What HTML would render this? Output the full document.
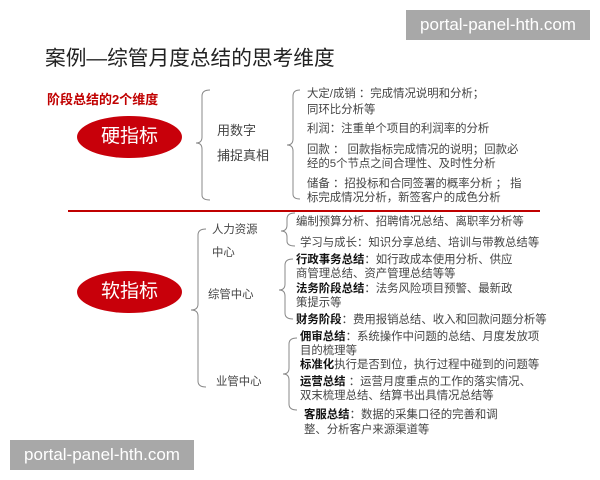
<!DOCTYPE html>
<html><head><meta charset="utf-8"><style>
body{margin:0;width:600px;height:480px;background:#fff;position:relative;overflow:hidden;font-family:"Liberation Sans","Noto Sans CJK SC",sans-serif;color:#444}
.t{position:absolute;white-space:nowrap;font-size:11.4px;line-height:14px}
.b{font-weight:bold;color:#111}
.wm{position:absolute;background:#a8a8a8;color:#fff;font-size:17px;line-height:30px;text-align:center;width:184px;height:30px}
.el{position:absolute;background:#c8000a;border-radius:50%;color:#fff;font-size:19px;text-align:center}
</style></head><body>
<div class="wm" style="left:406px;top:10px">portal-panel-hth.com</div>
<div class="wm" style="left:10px;top:440px">portal-panel-hth.com</div>
<div class="t" style="left:45px;top:46px;font-size:20.7px;line-height:26px;color:#222">案例—综管月度总结的思考维度</div>
<div class="t b" style="left:47px;top:93px;font-size:13px;color:#c00000">阶段总结的2个维度</div>
<div class="el" style="left:77px;top:116px;width:105px;height:42px;line-height:42px">硬指标</div>
<div class="el" style="left:77px;top:271px;width:105px;height:42px;line-height:42px">软指标</div>
<svg width="600" height="480" style="position:absolute;left:0;top:0" fill="none" stroke="#888" stroke-width="1">
<path d="M210,90 Q202,90 202,96 L202,137 Q202,143 196,143 Q202,143 202,149 L202,195 Q202,200 210,200"/>
<path d="M300,90 Q293,90 293,96 L293,139 Q293,145 287,145 Q293,145 293,151 L293,194 Q293,199 300,199"/>
<line x1="68" y1="211" x2="540" y2="211" stroke="#c00000" stroke-width="2"/>
<path d="M206,229 Q198,229 198,235 L198,304 Q198,310 191,310 Q198,310 198,316 L198,381 Q198,387 206,387"/>
<path d="M295,213 Q287,213 287,219 L287,225 Q287,231 281,231 Q287,231 287,237 L287,241 Q287,246 295,246"/>
<path d="M293,259 Q285,259 285,265 L285,284 Q285,290 279,290 Q285,290 285,296 L285,313 Q285,319 293,319"/>
<path d="M297,338 Q289,338 289,344 L289,368 Q289,374 283,374 Q289,374 289,380 L289,404 Q289,410 297,410"/>
</svg>
<div class="t" style="left:217px;top:123px;font-size:13px;line-height:16px">用数字</div>
<div class="t" style="left:217px;top:148px;font-size:13px;line-height:16px">捕捉真相</div>
<div class="t" style="left:307px;top:87px">大定/成销 ：完成情况说明和分析；</div>
<div class="t" style="left:307px;top:103px">同环比分析等</div>
<div class="t" style="left:307px;top:122px">利润：注重单个项目的利润率的分析</div>
<div class="t" style="left:307px;top:143px">回款 ： 回款指标完成情况的说明；回款必</div>
<div class="t" style="left:307px;top:157px">经的5个节点之间合理性、及时性分析</div>
<div class="t" style="left:307px;top:177px">储备 ：招投标和合同签署的概率分析 ； 指</div>
<div class="t" style="left:307px;top:191px">标完成情况分析，新签客户的成色分析</div>
<div class="t" style="left:212px;top:223px">人力资源</div>
<div class="t" style="left:212px;top:246px">中心</div>
<div class="t" style="left:208px;top:288px">综管中心</div>
<div class="t" style="left:216px;top:375px">业管中心</div>
<div class="t" style="left:296px;top:215px">编制预算分析、招聘情况总结、离职率分析等</div>
<div class="t" style="left:300px;top:236px">学习与成长：知识分享总结、培训与带教总结等</div>
<div class="t" style="left:296px;top:253px"><span class="b">行政事务总结</span>：如行政成本使用分析、供应</div>
<div class="t" style="left:296px;top:267px">商管理总结、资产管理总结等等</div>
<div class="t" style="left:296px;top:282px"><span class="b">法务阶段总结</span>：法务风险项目预警、最新政</div>
<div class="t" style="left:296px;top:296px">策提示等</div>
<div class="t" style="left:296px;top:313px"><span class="b">财务阶段</span>：费用报销总结、收入和回款问题分析等</div>
<div class="t" style="left:300px;top:330px"><span class="b">佣审总结</span>：系统操作中问题的总结、月度发放项</div>
<div class="t" style="left:300px;top:344px">目的梳理等</div>
<div class="t" style="left:300px;top:358px"><span class="b">标准化</span>执行是否到位，执行过程中碰到的问题等</div>
<div class="t" style="left:300px;top:375px"><span class="b">运营总结</span> ：运营月度重点的工作的落实情况、</div>
<div class="t" style="left:300px;top:389px">双末梳理总结、结算书出具情况总结等</div>
<div class="t" style="left:304px;top:408px"><span class="b">客服总结</span>：数据的采集口径的完善和调</div>
<div class="t" style="left:304px;top:423px">整、分析客户来源渠道等</div>
</body></html>
